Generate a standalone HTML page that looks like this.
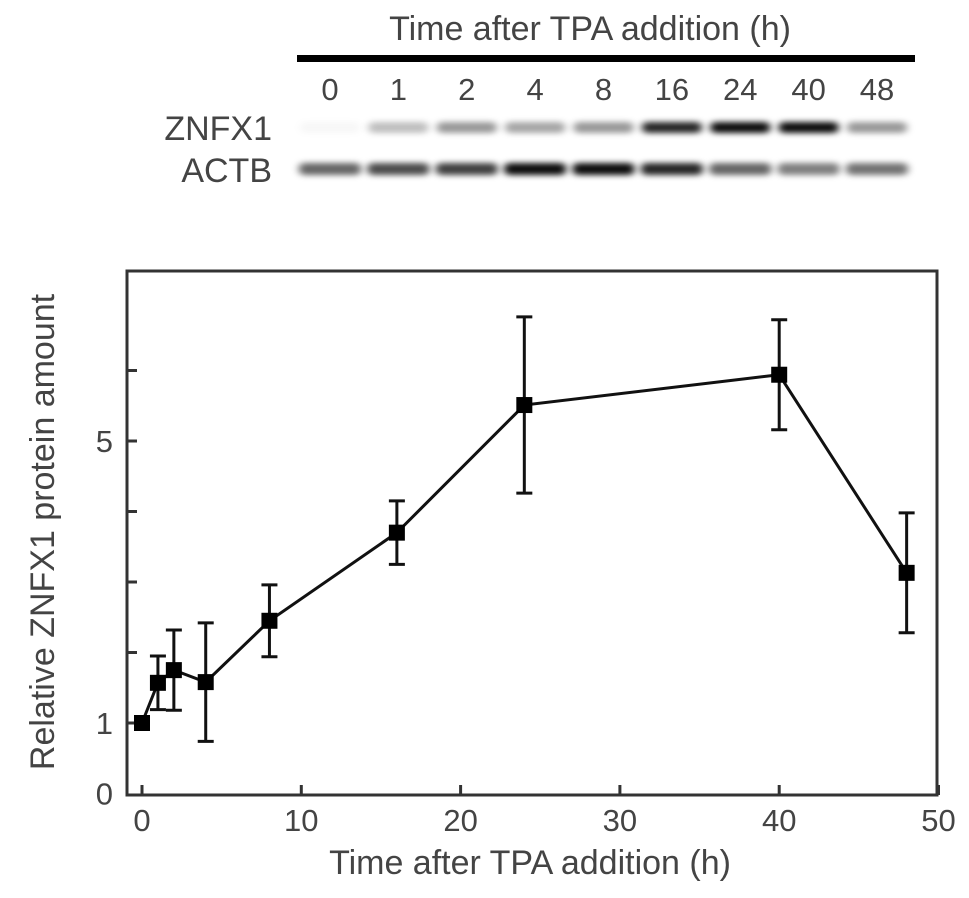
<!DOCTYPE html>
<html><head><meta charset="utf-8"><style>
html,body{margin:0;padding:0;background:#fff;}
svg{display:block;font-family:"Liberation Sans",sans-serif;}
</style></head><body>
<svg id="chart" width="969" height="898" viewBox="0 0 969 898">
<defs>
<filter id="blur" x="-30%" y="-150%" width="160%" height="400%"><feGaussianBlur stdDeviation="4 3"/></filter>
</defs>
<g id="blot">
<text x="590" y="40" font-size="34" fill="#444" text-anchor="middle">Time after TPA addition (h)</text>
<rect x="297" y="55" width="618" height="7" fill="#000"/>
<text x="272" y="140" font-size="34" fill="#444" text-anchor="end">ZNFX1</text>
<text x="272" y="182" font-size="34" fill="#444" text-anchor="end">ACTB</text>
<g id="lanes"></g>
</g>
<g id="plot"></g>
</svg>
<script>
const laneLabels=["0","1","2","4","8","16","24","40","48"];
const znfxIntensity=[0.03,0.25,0.4,0.35,0.4,0.85,0.95,0.95,0.4];
const actbIntensity=[0.6,0.7,0.75,0.95,0.95,0.85,0.6,0.5,0.55];
const timesH=[0,1,2,4,8,16,24,40,48];
const meanValues=[1.0,1.57,1.75,1.58,2.45,3.70,5.51,5.94,3.13];
const errValues=[0,0.38,0.57,0.84,0.51,0.45,1.25,0.78,0.85];
const xTicks=[0,10,20,30,40,50];
const yTicks=[0,1,2,3,4,5,6];
const yTickLabels=["0","1","","","","5",""];

const NS="http://www.w3.org/2000/svg";
function mk(tag,attrs,parent){const e=document.createElementNS(NS,tag);for(const k in attrs)e.setAttribute(k,attrs[k]);parent.appendChild(e);return e;}
const lanes=document.getElementById('lanes');
const laneX0=330,laneX1=877;
laneLabels.forEach((l,i)=>{
  const cx=laneX0+(laneX1-laneX0)*i/(laneLabels.length-1);
  const t=mk('text',{x:cx,y:100,'font-size':31,fill:'#444','text-anchor':'middle'},lanes);
  
  
  t.textContent=l;
  const b1=mk('rect',{x:cx-30,y:122,width:60,height:11,rx:5,fill:'#000','fill-opacity':znfxIntensity[i],filter:'url(#blur)'},lanes);
  
  
  const b2=mk('rect',{x:cx-31,y:163,width:62,height:12,rx:5,fill:'#000','fill-opacity':actbIntensity[i],filter:'url(#blur)'},lanes);
  
  
});
const g=document.getElementById('plot');
const L=127,R=937,T=271,B=795;
const sx=v=>142+v*15.93;
const sy=v=>793.5-v*70.5;
const fr=mk('rect',{x:L,y:T,width:R-L,height:B-T,fill:'none',stroke:'#333','stroke-width':3},g);


xTicks.forEach(v=>{
  const tk=mk('line',{x1:sx(v),x2:sx(v),y1:B,y2:B-10,stroke:'#333','stroke-width':3},g);
  
  
  const t=mk('text',{x:sx(v),y:B+36,'font-size':31,fill:'#444','text-anchor':'middle'},g);
  
  
  t.textContent=v;
});
yTicks.forEach((v,i)=>{
  if(v>0){const tk=mk('line',{x1:L,x2:L+10,y1:sy(v),y2:sy(v),stroke:'#333','stroke-width':3},g);
  
  }
  if(yTickLabels[i]){const t=mk('text',{x:L-14,y:sy(v)+11,'font-size':31,fill:'#444','text-anchor':'end'},g);
  
  
  t.textContent=yTickLabels[i];}
});
const xt=mk('text',{x:530,y:874,'font-size':34,fill:'#444','text-anchor':'middle'},g);


xt.textContent='Time after TPA addition (h)';
const yt=mk('text',{x:0,y:0,'font-size':34,fill:'#444','text-anchor':'middle',transform:'translate(54,532) rotate(-90)'},g);


yt.textContent='Relative ZNFX1 protein amount';
const pts=timesH.map((t,i)=>sx(t)+','+sy(meanValues[i])).join(' ');
const pl=mk('polyline',{points:pts,fill:'none',stroke:'#111','stroke-width':3},g);


timesH.forEach((t,i)=>{
  const x=sx(t),m=meanValues[i],e=errValues[i];
  if(e>0){
    const eb=mk('path',{d:`M${x},${sy(m+e)}V${sy(m-e)}M${x-8},${sy(m+e)}H${x+8}M${x-8},${sy(m-e)}H${x+8}`,stroke:'#111','stroke-width':3,fill:'none'},g);
    
    
  }
  const p=mk('rect',{x:x-8,y:sy(m)-8,width:16,height:16,fill:'#000'},g);
  
  
});
</script>
</body></html>
